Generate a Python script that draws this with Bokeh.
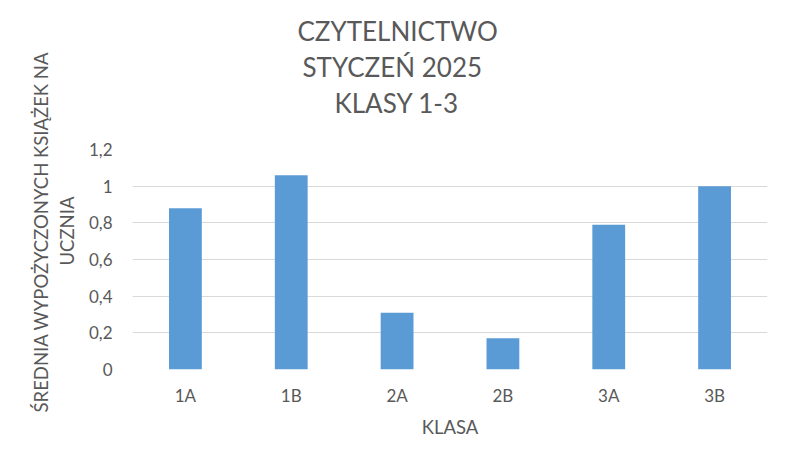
from bokeh.plotting import figure
from bokeh.models import Range1d, FixedTicker, CustomJSTickFormatter, Title
from bokeh.embed import file_html
from bokeh.resources import INLINE

# --- data ---
classes = ["1A", "1B", "2A", "2B", "3A", "3B"]
avg_books = [0.88, 1.06, 0.31, 0.17, 0.79, 1.00]
y_ticks = [0, 0.2, 0.4, 0.6, 0.8, 1.0, 1.2]
title_lines = ["CZYTELNICTWO", "STYCZEŃ 2025", "KLASY 1-3"]
title_offsets = [165, 170, 202]          # px from frame left (layout only)
y_title_lines = ["ŚREDNIA WYPOŻYCZONYCH KSIĄŻEK NA", "UCZNIA"]
y_title_offsets = [-43, 104]             # px from frame bottom (layout only)
y_title_standoffs = [10, -6]
x_title = "KLASA"

FONT = "Lato"
GREY = "#595959"

p = figure(
    x_range=classes,
    y_range=Range1d(0, 1.2),
    width=784, height=453,
    output_backend="svg", toolbar_location=None,
    min_border_left=132, min_border_right=17,
    min_border_top=149, min_border_bottom=84,
)
p.title.visible = False

p.vbar(x=classes, top=avg_books, width=0.31, color="#5b9bd5", line_color=None)

p.outline_line_color = None
p.background_fill_color = "white"
p.border_fill_color = "white"

p.xgrid.grid_line_color = None
p.ygrid.grid_line_color = "#d9d9d9"
p.ygrid.grid_line_width = 1

p.yaxis.ticker = FixedTicker(ticks=y_ticks)
p.yaxis.formatter = CustomJSTickFormatter(
    code="return tick.toFixed(1).replace(/\\.0$/, '').replace('.', ',');")

for ax in (p.xaxis, p.yaxis):
    ax.axis_line_color = None
    ax.major_tick_line_color = None
    ax.minor_tick_line_color = None
    ax.major_label_text_font = FONT
    ax.major_label_text_font_size = "17px"
    ax.major_label_text_color = GREY

p.yaxis.major_label_standoff = 14
p.xaxis.major_label_standoff = 9

p.xaxis.axis_label = x_title
p.xaxis.axis_label_text_font = FONT
p.xaxis.axis_label_text_font_size = "18.5px"
p.xaxis.axis_label_text_font_style = "normal"
p.xaxis.axis_label_text_color = GREY
p.xaxis.axis_label_standoff = 7


def spacer(size):
    return Title(text=" ", text_font_size="1px", standoff=size)


# y-axis title: spacer next to the axis, then the two lines outward
p.add_layout(spacer(8), "left")
for txt, off, so in reversed(list(zip(y_title_lines, y_title_offsets,
                                      y_title_standoffs))):
    p.add_layout(Title(text=txt, align="left", offset=off, text_font=FONT,
                       text_font_size="18.5px", text_font_style="normal",
                       text_color=GREY, standoff=so), "left")

# chart title: spacer above the frame, then the three lines upward
p.add_layout(spacer(27), "above")
for txt, off in reversed(list(zip(title_lines, title_offsets))):
    p.add_layout(Title(text=txt, align="left", offset=off, text_font=FONT,
                       text_font_size="26px", text_font_style="normal",
                       text_color=GREY, standoff=2), "above")

open("out.html", "w").write(file_html(p, INLINE))
